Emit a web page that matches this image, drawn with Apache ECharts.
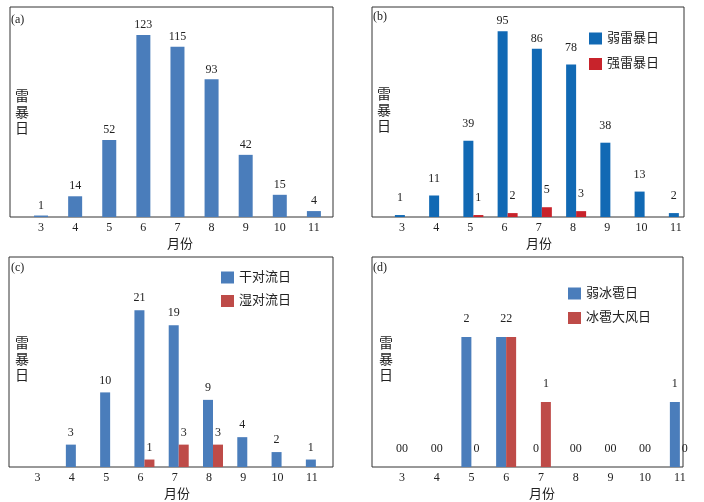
<!DOCTYPE html>
<html>
<head>
<meta charset="utf-8">
<script src="https://cdn.jsdelivr.net/npm/echarts@6/dist/echarts.min.js"></script>
<style>
  html, body { margin: 0; padding: 0; background: #fff; }
  #chart { width: 704px; height: 502px; }
</style>
</head>
<body>
<div id="chart"></div>
<script>
// months on the x axis (shared by all four panels)
const months = [3, 4, 5, 6, 7, 8, 9, 10, 11];

// (a) all thunderstorm days
const stormDays = [1, 14, 52, 123, 115, 93, 42, 15, 4];
// (b) weak / strong thunderstorm days
const weakStorm = [1, 11, 39, 95, 86, 78, 38, 13, 2];
const strongStorm = [0, 0, 1, 2, 5, 3, 0, 0, 0];
// (c) dry / wet convection days
const dryConv = [0, 3, 10, 21, 19, 9, 4, 2, 1];
const wetConv = [0, 0, 0, 1, 3, 3, 0, 0, 0];
// (d) weak hail / hail with gale days
const weakHail = [0, 0, 2, 2, 0, 0, 0, 0, 1];
const hailGale = [0, 0, 0, 2, 1, 0, 0, 0, 0];

const SERIF = '"Liberation Serif", "Noto Sans CJK SC", serif';
const INK = '#222';
const BLUE = '#4a7dbb', RED = '#be4b48';
const BLUE_B = '#1169b4', RED_B = '#c8232b';

// tweak(i, v) may return a per-point label override
const pairs = (vals, tweak) => months.map((m, i) => {
  const item = { value: [m, vals[i]] };
  const lab = tweak ? tweak(i, vals[i]) : null;
  if (lab) item.label = lab;
  return item;
});

const hideZero = (p) => (p.value[1] === 0 ? '' : String(p.value[1]));
const showAll = (p) => String(p.value[1]);

// in (b) the tallest labels sit closer to their bars, as in the original
const nearTop = (i, v) => (v > 80 ? { distance: 4 } : null);
// in (d) labels of equal neighbours are set tight together
const hugRight = (i) => (weakHail[i] === hailGale[i] ? { offset: [2, 0] } : null);
const hugLeft = (i) => (weakHail[i] === hailGale[i] ? { offset: [-2, 0] } : null);

function barLabel(distance, formatter) {
  return {
    show: true, position: 'top', distance: distance, formatter: formatter,
    fontFamily: SERIF, fontSize: 12, color: INK
  };
}

function xAxisFor(idx, min, max, namePad, labelPad) {
  return {
    type: 'value', gridIndex: idx, min: min, max: max,
    axisLine: { show: false }, axisTick: { show: false }, splitLine: { show: false },
    axisLabel: {
      customValues: months, margin: 5, fontFamily: SERIF, fontSize: 12, color: INK,
      padding: labelPad
    },
    name: '月份', nameLocation: 'middle', nameGap: 21,
    nameTextStyle: { fontFamily: SERIF, fontSize: 13, color: INK, padding: namePad }
  };
}

function yAxisFor(idx, max) {
  return { type: 'value', gridIndex: idx, min: 0, max: max, show: false };
}

function titleAt(text, left, top, size, lh) {
  return {
    text: text, left: left, top: top, padding: 0,
    textStyle: { fontFamily: SERIF, fontSize: size, fontWeight: 'normal', color: INK, lineHeight: lh }
  };
}

function legendAt(names, left, top, gap, size) {
  return {
    data: names, orient: 'vertical', left: left, top: top, padding: 0,
    icon: 'rect', itemWidth: 13, itemHeight: 12, itemGap: gap,
    textStyle: { fontFamily: SERIF, fontSize: size, color: INK, lineHeight: 13 }
  };
}

const chart = echarts.init(document.getElementById('chart'));

const option = {
  animation: false,
  backgroundColor: '#fff',
  title: [
    titleAt('(a)', 11, 14, 12, 12),
    titleAt('(b)', 373, 11, 12, 12),
    titleAt('(c)', 11, 262, 12, 12),
    titleAt('(d)', 373, 262, 12, 12),
    titleAt('雷\n暴\n日', 15, 89, 14, 16),
    titleAt('雷\n暴\n日', 377, 87, 14, 16),
    titleAt('雷\n暴\n日', 15, 336, 14, 16),
    titleAt('雷\n暴\n日', 379, 336, 14, 16)
  ],
  legend: [
    legendAt(['弱雷暴日', '强雷暴日'], 589, 32, 12.5, 13),
    legendAt(['干对流日', '湿对流日'], 221, 271, 10.5, 13),
    legendAt(['弱冰雹日', '冰雹大风日'], 568, 287, 11.5, 13)
  ],
  grid: [
    { left: 10, top: 7, width: 323, height: 210, show: true, borderColor: '#333', borderWidth: 1 },
    { left: 372, top: 7, width: 312, height: 210, show: true, borderColor: '#333', borderWidth: 1 },
    { left: 9, top: 257, width: 324, height: 210, show: true, borderColor: '#333', borderWidth: 1 },
    { left: 372, top: 257, width: 311, height: 210, show: true, borderColor: '#333', borderWidth: 1 }
  ],
  xAxis: [
    xAxisFor(0, 2.09, 11.56, [0, 0, 0, 17], 0),
    xAxisFor(1, 2.04, 11.15, [0, 0, 0, 22], [0, 6, 0, 0]),
    xAxisFor(2, 2.05, 11.5, [0, 0, 0, 12], [0, 8, 0, 0]),
    xAxisFor(3, 2.14, 11.09, [0, 0, 0, 29], 0)
  ],
  yAxis: [
    yAxisFor(0, 141.9),
    yAxisFor(1, 107.4),
    yAxisFor(2, 28.15),
    yAxisFor(3, 3.23)
  ],
  series: [
    {
      name: '雷暴日', type: 'bar', xAxisIndex: 0, yAxisIndex: 0, barWidth: 14, clip: false,
      itemStyle: { color: BLUE }, label: barLabel(4, showAll), data: pairs(stormDays)
    },
    {
      name: '弱雷暴日', type: 'bar', xAxisIndex: 1, yAxisIndex: 1, barWidth: 10, barGap: '0%', clip: false,
      itemStyle: { color: BLUE_B }, label: barLabel(11, hideZero), data: pairs(weakStorm, nearTop)
    },
    {
      name: '强雷暴日', type: 'bar', xAxisIndex: 1, yAxisIndex: 1, barWidth: 10, barGap: '0%', clip: false,
      itemStyle: { color: RED_B }, label: barLabel(11, hideZero), data: pairs(strongStorm)
    },
    {
      name: '干对流日', type: 'bar', xAxisIndex: 2, yAxisIndex: 2, barWidth: 10, barGap: '0%', clip: false,
      itemStyle: { color: BLUE }, label: barLabel(6, hideZero), data: pairs(dryConv)
    },
    {
      name: '湿对流日', type: 'bar', xAxisIndex: 2, yAxisIndex: 2, barWidth: 10, barGap: '0%', clip: false,
      itemStyle: { color: RED }, label: barLabel(6, hideZero), data: pairs(wetConv)
    },
    {
      name: '弱冰雹日', type: 'bar', xAxisIndex: 3, yAxisIndex: 3, barWidth: 10, barGap: '0%', clip: false,
      itemStyle: { color: BLUE }, label: barLabel(12, showAll), data: pairs(weakHail, hugRight)
    },
    {
      name: '冰雹大风日', type: 'bar', xAxisIndex: 3, yAxisIndex: 3, barWidth: 10, barGap: '0%', clip: false,
      itemStyle: { color: RED }, label: barLabel(12, showAll), data: pairs(hailGale, hugLeft)
    }
  ]
};

chart.setOption(option);
</script>
</body>
</html>
